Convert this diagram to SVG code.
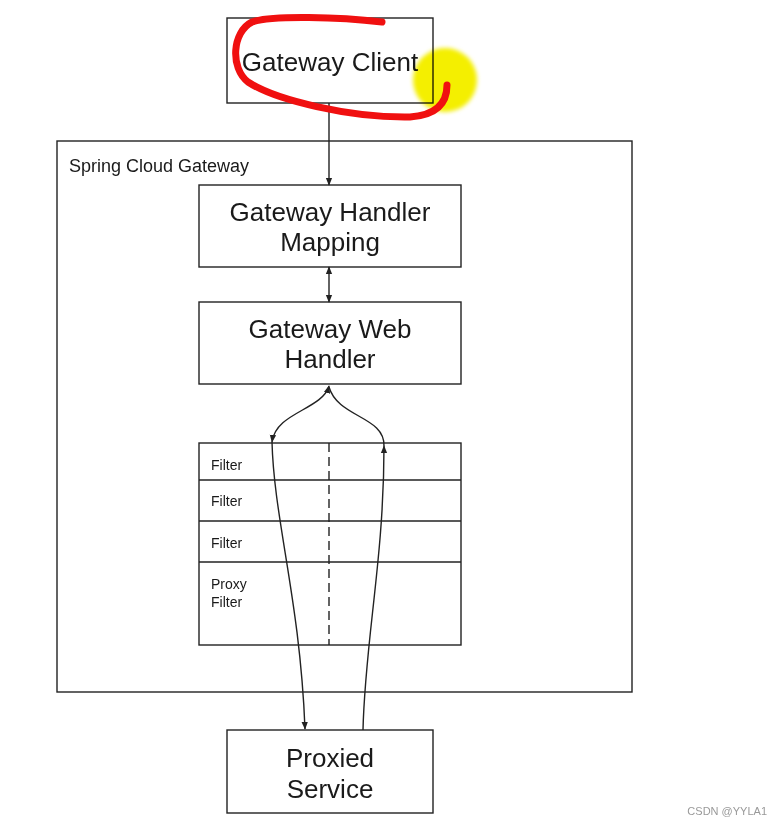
<svg xmlns="http://www.w3.org/2000/svg" width="782" height="825" viewBox="0 0 782 825">
<defs>
<style>
.box{fill:#fff;stroke:#222;stroke-width:1.4}
.ln{fill:none;stroke:#222;stroke-width:1.4}
.big{font-family:"Liberation Sans",Arial,sans-serif;font-size:26px;fill:#1a1a1a;text-anchor:middle}
.sm{font-family:"Liberation Sans",Arial,sans-serif;font-size:14px;fill:#1a1a1a}
.title{font-family:"Liberation Sans",Arial,sans-serif;font-size:18px;fill:#1a1a1a}
</style>
<marker id="ah" viewBox="0 0 10 10" refX="9" refY="5" markerWidth="8" markerHeight="8" markerUnits="userSpaceOnUse" orient="auto-start-reverse">
<path d="M0,1 L10,5 L0,9 Z" fill="#222"/>
</marker>
<filter id="blur" x="-50%" y="-50%" width="200%" height="200%"><feGaussianBlur stdDeviation="2"/></filter>
</defs>
<rect width="782" height="825" fill="#fff"/>

<g id="spring-cloud-gateway">
<rect class="box" x="57" y="141" width="575" height="551"/>
<text class="title" x="69" y="172">Spring Cloud Gateway</text>
</g>

<g id="gateway-client">
<rect class="box" x="227" y="18" width="206" height="85"/>
<text class="big" x="330" y="71">Gateway Client</text>
</g>

<g id="handler-mapping">
<rect class="box" x="199" y="185" width="262" height="82"/>
<text class="big" x="330" y="221">Gateway Handler</text>
<text class="big" x="330" y="251">Mapping</text>
</g>

<g id="web-handler">
<rect class="box" x="199" y="302" width="262" height="82"/>
<text class="big" x="330" y="338">Gateway Web</text>
<text class="big" x="330" y="368">Handler</text>
</g>

<g id="filters">
<rect class="box" x="199" y="443" width="262" height="202"/>
<line class="ln" x1="199" y1="480" x2="461" y2="480"/>
<line class="ln" x1="199" y1="521" x2="461" y2="521"/>
<line class="ln" x1="199" y1="562" x2="461" y2="562"/>
<line class="ln" x1="329" y1="443" x2="329" y2="645" stroke-dasharray="9,5"/>
<text class="sm" x="211" y="470">Filter</text>
<text class="sm" x="211" y="506">Filter</text>
<text class="sm" x="211" y="548">Filter</text>
<text class="sm" x="211" y="589">Proxy</text>
<text class="sm" x="211" y="607">Filter</text>
</g>

<g id="proxied-service">
<rect class="box" x="227" y="730" width="206" height="83"/>
<text class="big" x="330" y="767">Proxied</text>
<text class="big" x="330" y="798">Service</text>
</g>

<g id="connectors">
<line class="ln" x1="329" y1="103" x2="329" y2="185" marker-end="url(#ah)"/>
<line class="ln" x1="329" y1="267" x2="329" y2="302" marker-start="url(#ah)" marker-end="url(#ah)"/>
<path class="ln" d="M329,386 C322,410 276,412 272,442" marker-start="url(#ah)" marker-end="url(#ah)"/>
<path class="ln" d="M272,442 C274,520 300,600 305,729" marker-end="url(#ah)"/>
<path class="ln" d="M363,730 C365,640 384,560 384,446" marker-end="url(#ah)"/>
<path class="ln" d="M384,446 C385,416 338,418 329,387"/>
</g>

<g id="annotations">
<circle cx="445" cy="80" r="32" fill="#f4ef00" filter="url(#blur)" style="mix-blend-mode:multiply"/>
<path d="M382,22 C340,17 272,15 252,22 C232,32 230,68 248,82 C275,100 350,118 410,117 C440,115 447,100 447,85" fill="none" stroke="#f01010" stroke-width="7" stroke-linecap="round" stroke-linejoin="round"/>
</g>

<text x="767" y="815" font-family="'Liberation Sans',Arial,sans-serif" font-size="11" fill="#999" text-anchor="end">CSDN @YYLA1</text>
</svg>
